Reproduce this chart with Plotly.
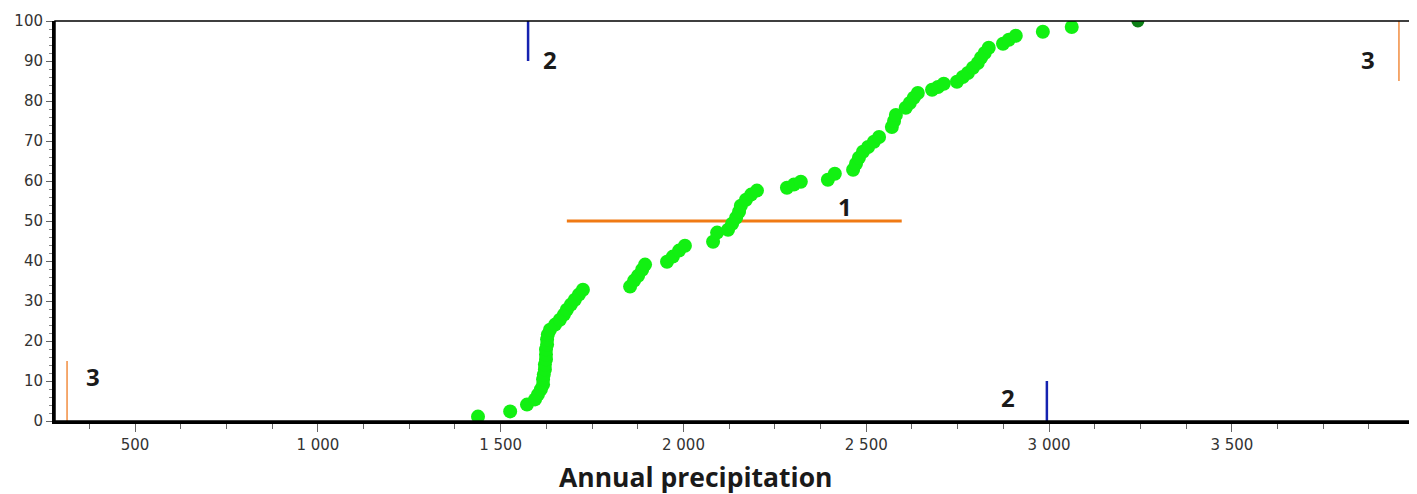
import plotly.graph_objects as go

# Cumulative frequency points (annual precipitation, percent)
precip = [1438, 1526, 1572, 1594, 1602, 1610, 1616, 1616, 1618, 1621, 1621, 1624, 1624, 1624,
          1627, 1627, 1629, 1635, 1649, 1662, 1673, 1681, 1692, 1703, 1714, 1725,
          1854, 1865, 1876, 1887, 1895,
          1955, 1971, 1988, 2004,
          2081, 2092, 2122, 2133, 2144, 2152, 2157, 2171, 2185, 2201,
          2283, 2302, 2321, 2395, 2414,
          2464, 2472, 2480, 2491, 2505, 2521, 2535,
          2570, 2576, 2581, 2608, 2619, 2630, 2641,
          2680, 2696, 2712, 2748, 2764, 2778, 2792, 2805, 2814, 2824, 2835,
          2874, 2890, 2909, 2983, 3062]
percent = [1.1, 2.4, 4.1, 5.4, 6.6, 7.9, 9.1, 10.4, 11.6, 12.9, 14.1, 15.4, 16.6, 17.9,
           19.1, 20.4, 21.6, 22.8, 24.1, 25.3, 26.6, 27.8, 29.1, 30.3, 31.6, 32.8,
           33.6, 35.1, 36.3, 37.8, 39.1,
           39.8, 41.1, 42.6, 43.8,
           44.8, 47.1, 47.8, 49.3, 50.8, 52.3, 53.8, 55.3, 56.6, 57.6,
           58.3, 59.1, 59.8, 60.3, 61.8,
           62.8, 64.3, 65.8, 67.3, 68.5, 69.8, 71.0,
           73.5, 75.0, 76.5, 78.3, 79.5, 80.8, 82.0,
           82.8, 83.5, 84.3, 84.8, 86.0, 87.0, 88.3, 89.5, 90.8, 92.0, 93.3,
           94.3, 95.3, 96.3, 97.3, 98.5]
max_precip = [3243]
max_percent = [100]

# Reference lines
line1_x = [1681, 2597]
line1_y = [50, 50]
line2a_x = [1575, 1575]
line2a_y = [90, 100]
line2b_x = [2994, 2994]
line2b_y = [0, 10]
line3a_x = [314, 314]
line3a_y = [0, 15]
line3b_x = [3957, 3957]
line3b_y = [85, 100]

# Labels
label_text = ["1", "2", "2", "3", "3"]
label_x = [2441, 1635, 2887, 385, 3872]
label_y = [53.6, 90.3, 5.9, 11.1, 90.3]

x_tickvals = [500, 1000, 1500, 2000, 2500, 3000, 3500]
x_ticktext = ["500", "1 000", "1 500", "2 000", "2 500", "3 000", "3 500"]
y_tickvals = [0, 10, 20, 30, 40, 50, 60, 70, 80, 90, 100]

fig = go.Figure()

fig.add_trace(go.Scatter(x=line1_x, y=line1_y, mode="lines",
                         line=dict(color="#F07A14", width=3), showlegend=False))
fig.add_trace(go.Scatter(x=precip, y=percent, mode="markers",
                         marker=dict(color="#12F012", size=14, line=dict(width=0)),
                         showlegend=False))
fig.add_trace(go.Scatter(x=max_precip, y=max_percent, mode="markers",
                         marker=dict(color="#0C7F16", size=13, line=dict(width=0)),
                         showlegend=False))
for lx, ly, col, w in [(line2a_x, line2a_y, "#1522B0", 2.5),
                       (line2b_x, line2b_y, "#1522B0", 2.5),
                       (line3a_x, line3a_y, "#F4A060", 1.8),
                       (line3b_x, line3b_y, "#F4A060", 1.8)]:
    fig.add_trace(go.Scatter(x=lx, y=ly, mode="lines",
                             line=dict(color=col, width=w), showlegend=False))

for t, x, y in zip(label_text, label_x, label_y):
    fig.add_annotation(x=x, y=y, text=t, showarrow=False,
                       font=dict(family="Open Sans", size=24, color="#1a1a1a", weight="bold"))

fig.add_annotation(xref="paper", yref="paper", x=0.4727, y=-0.141, yanchor="middle",
                   text="Annual precipitation", showarrow=False,
                   font=dict(family="Open Sans", size=26.5, color="#1a1a1a", weight="bold"))

fig.add_shape(type="rect", xref="paper", yref="paper", x0=0, x1=1, y0=0, y1=1,
              line=dict(color="black", width=1.5))

fig.update_xaxes(range=[281, 3990], tickvals=x_tickvals, ticktext=x_ticktext,
                 ticks="outside", ticklen=8, tickwidth=1, tickcolor="#666",
                 minor=dict(dtick=125, tick0=0, ticks="outside", ticklen=5, tickcolor="#666"),
                 showline=True, linewidth=3, linecolor="black",
                 showgrid=False, zeroline=False, automargin=False,
                 tickfont=dict(family="DejaVu Sans", size=15, color="#333"))
fig.update_yaxes(range=[0, 100], tickvals=y_tickvals,
                 ticks="outside", ticklen=6, tickwidth=1, tickcolor="#666",
                 minor=dict(dtick=2, tick0=0, ticks="outside", ticklen=3, tickcolor="#888"),
                 showline=True, linewidth=3, linecolor="black",
                 showgrid=False, zeroline=False, automargin=False,
                 tickfont=dict(family="DejaVu Sans", size=15, color="#333"))

# the page body adds an 8px margin, so the figure is sized to fit the window
fig.update_layout(width=1409, height=486, plot_bgcolor="white", paper_bgcolor="white",
                  margin=dict(l=47, r=6, t=13, b=73))

fig.write_html("out.html")
